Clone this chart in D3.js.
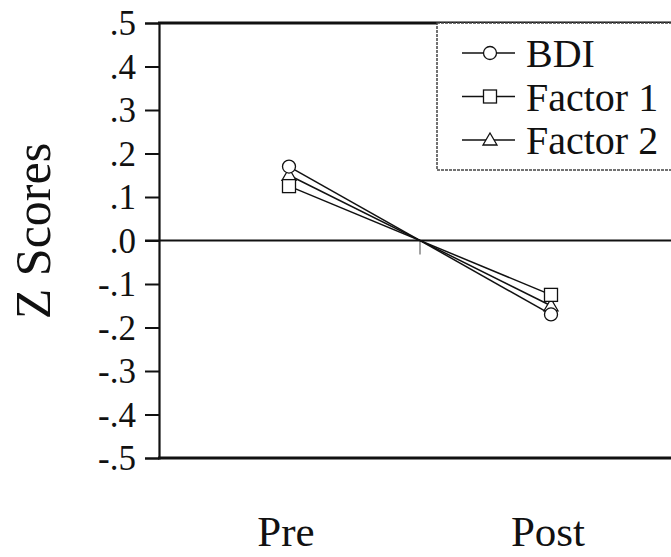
<!DOCTYPE html>
<html>
<head>
<meta charset="utf-8">
<script src="https://cdn.jsdelivr.net/npm/d3@7"></script>
<style>
body { margin: 0; background: #fff; }
svg text { font-family: "Liberation Serif", "DejaVu Serif", "Times New Roman", Times, serif; fill: #111; }
</style>
</head>
<body>
<div id="chart"></div>
<script>
// data
var phases = ["Pre", "Post"];
var seriesNames = ["BDI", "Factor 1", "Factor 2"];
var bdi = [0.17, -0.17];
var factor1 = [0.125, -0.125];
var factor2 = [0.15, -0.15];
var yTicks = [0.5, 0.4, 0.3, 0.2, 0.1, 0, -0.1, -0.2, -0.3, -0.4, -0.5];
var yTickLabels = [".5", ".4", ".3", ".2", ".1", ".0", "-.1", "-.2", "-.3", "-.4", "-.5"];

var serifFont = "'Liberation Serif', 'DejaVu Serif', 'Times New Roman', Times, serif";

var series = [
  {name: seriesNames[0], values: bdi, shape: "circle"},
  {name: seriesNames[1], values: factor1, shape: "square"},
  {name: seriesNames[2], values: factor2, shape: "triangle"}
];

var svg = d3.select("#chart")
  .append("svg")
  .attr("width", 671)
  .attr("height", 557);

var xScale = d3.scaleBand()
  .domain(phases)
  .range([158, 682])
  .paddingInner(0);

var yScale = d3.scaleLinear()
  .domain([-0.5, 0.5])
  .range([458, 23]);

function xc(p) { return xScale(p) + xScale.bandwidth() / 2; }

// frame lines top and bottom
svg.append("line")
  .attr("x1", 158).attr("x2", 682)
  .attr("y1", yScale(0.5)).attr("y2", yScale(0.5))
  .attr("stroke", "#111").attr("stroke-width", 3);
svg.append("line")
  .attr("x1", 158).attr("x2", 682)
  .attr("y1", yScale(-0.5)).attr("y2", yScale(-0.5))
  .attr("stroke", "#111").attr("stroke-width", 3);

// zero line
svg.append("line")
  .attr("x1", 145).attr("x2", 682)
  .attr("y1", yScale(0)).attr("y2", yScale(0))
  .attr("stroke", "#111").attr("stroke-width", 2);

// tick between the two groups
svg.append("line")
  .attr("x1", xScale("Post")).attr("x2", xScale("Post"))
  .attr("y1", yScale(0)).attr("y2", yScale(0) + 14)
  .attr("stroke", "#666").attr("stroke-width", 1.2);

// y axis
var yAxis = svg.append("g")
  .attr("transform", "translate(159,0)")
  .call(d3.axisLeft(yScale)
    .tickValues(yTicks)
    .tickSize(14)
    .tickPadding(9)
    .tickFormat(function(d, i) { return yTickLabels[i]; }));
yAxis.attr("font-family", serifFont);
yAxis.select(".domain").attr("stroke", "#111").attr("stroke-width", 2.2);
yAxis.selectAll(".tick line").attr("stroke", "#111").attr("stroke-width", 2);
yAxis.selectAll(".tick text")
  .style("font-family", serifFont)
  .attr("font-size", 35)
  .attr("fill", "#111")
  .attr("dy", "0.34em");

// y title
svg.append("text")
  .text("Z Scores")
  .style("font-family", serifFont)
  .attr("font-size", 50)
  .attr("text-anchor", "middle")
  .attr("transform", "translate(50,231)rotate(-90)");

// x labels
svg.selectAll(".xlab")
  .data(phases)
  .enter().append("text")
  .attr("class", "xlab")
  .attr("x", function(d) { return xc(d) - 3; })
  .attr("y", 546)
  .attr("text-anchor", "middle")
  .style("font-family", serifFont)
  .attr("font-size", 43)
  .text(function(d) { return d; });

function drawMarker(g, shape, x, y) {
  if (shape === "circle") {
    g.append("circle").attr("cx", x).attr("cy", y).attr("r", 6.5)
      .attr("fill", "#fff").attr("stroke", "#111").attr("stroke-width", 1.3);
  } else if (shape === "square") {
    g.append("rect").attr("x", x - 6.5).attr("y", y - 6.5)
      .attr("width", 13).attr("height", 13)
      .attr("fill", "#fff").attr("stroke", "#111").attr("stroke-width", 1.3);
  } else {
    g.append("path")
      .attr("d", "M" + x + "," + (y - 7) + "L" + (x + 7) + "," + (y + 5) + "L" + (x - 7) + "," + (y + 5) + "Z")
      .attr("fill", "#fff").attr("stroke", "#111").attr("stroke-width", 1.3);
  }
}

var line = d3.line()
  .x(function(d, i) { return xc(phases[i]); })
  .y(function(d) { return yScale(d); });

var plot = svg.append("g");
series.forEach(function(s) {
  plot.append("path")
    .attr("d", line(s.values))
    .attr("fill", "none")
    .attr("stroke", "#111")
    .attr("stroke-width", 1.5);
});
// reverse order so the circle sits on top like the scan
series.slice().reverse().forEach(function(s) {
  s.values.forEach(function(v, i) {
    drawMarker(plot, s.shape, xc(phases[i]), yScale(v));
  });
});

// legend
var legend = svg.append("g");
legend.append("rect")
  .attr("x", 437).attr("y", 23)
  .attr("width", 250).attr("height", 147)
  .attr("fill", "#fff")
  .attr("stroke", "#444")
  .attr("stroke-width", 1.5)
  .attr("stroke-dasharray", "3,1");
series.forEach(function(s, i) {
  var y = 53 + i * 43.5;
  legend.append("line")
    .attr("x1", 462).attr("x2", 515)
    .attr("y1", y).attr("y2", y)
    .attr("stroke", "#111").attr("stroke-width", 1.5);
  drawMarker(legend, s.shape, 490, y);
  legend.append("text")
    .attr("x", 526).attr("y", y + 14)
    .style("font-family", serifFont)
    .attr("font-size", 40)
    .text(s.name);
});
</script>
</body>
</html>
